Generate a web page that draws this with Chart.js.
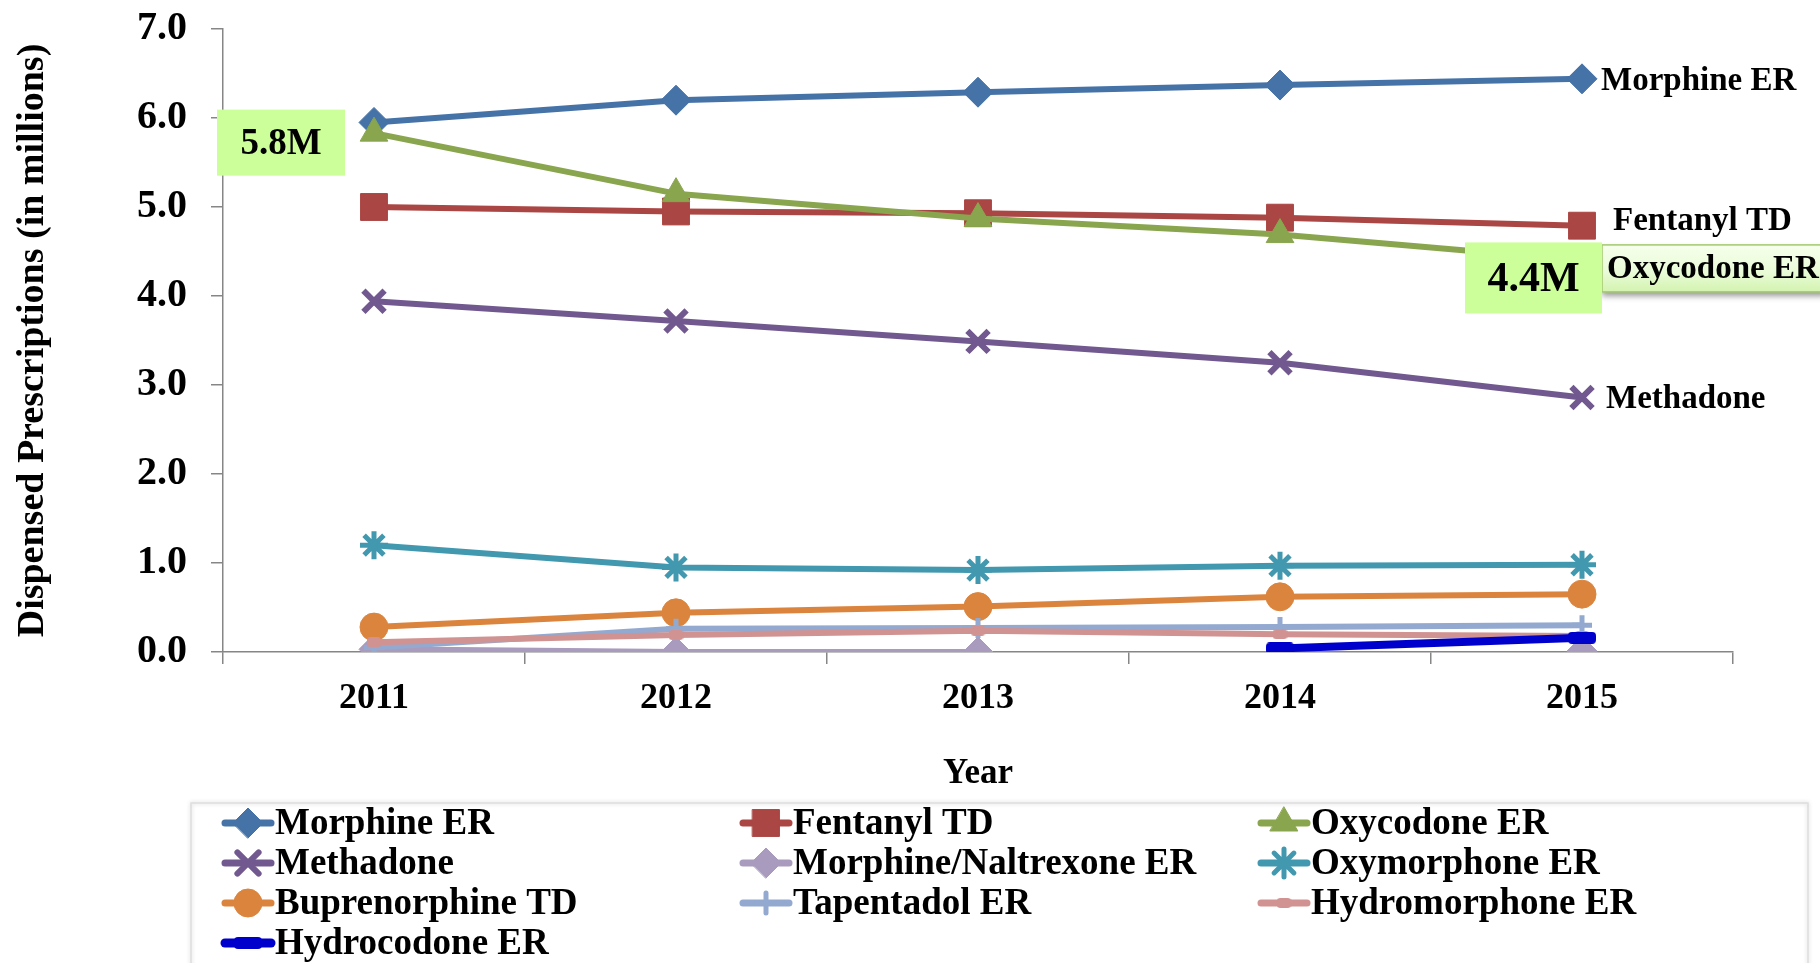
<!DOCTYPE html>
<html>
<head>
<meta charset="utf-8">
<script src="https://cdn.jsdelivr.net/npm/chart.js@4/dist/chart.umd.min.js"></script>
<style>
  html, body { margin: 0; padding: 0; background: #ffffff; }
  #wrap { width: 1820px; height: 963px; position: relative; }
  canvas { display: block; }
</style>
</head>
<body>
<div id="wrap"><canvas id="chart" width="1820" height="963"></canvas></div>
<script>
// Dispensed prescriptions of ER/LA opioids, millions, 2011-2015
const years = ['2011', '2012', '2013', '2014', '2015'];
const yTickLabels = ['0.0', '1.0', '2.0', '3.0', '4.0', '5.0', '6.0', '7.0'];

const morphineER        = [5.95, 6.20, 6.29, 6.37, 6.44];
const fentanylTD        = [5.00, 4.95, 4.93, 4.88, 4.79];
const oxycodoneER       = [5.83, 5.15, 4.87, 4.69, 4.40];
const methadone         = [3.94, 3.72, 3.49, 3.25, 2.86];
const morphNaltrexoneER = [0.03, 0.00, 0.00, null, 0.01];
const oxymorphoneER     = [1.20, 0.95, 0.92, 0.97, 0.98];
const buprenorphineTD   = [0.28, 0.44, 0.51, 0.62, 0.65];
const tapentadolER      = [0.05, 0.26, 0.27, 0.28, 0.30];
const hydromorphoneER   = [0.11, 0.19, 0.24, 0.20, 0.18];
const hydrocodoneER     = [null, null, null, 0.04, 0.16];

const seriesNames = ['Morphine ER', 'Fentanyl TD', 'Oxycodone ER', 'Methadone',
  'Morphine/Naltrexone ER', 'Oxymorphone ER', 'Buprenorphine TD', 'Tapentadol ER',
  'Hydromorphone ER', 'Hydrocodone ER'];
const seriesValues = [morphineER, fentanylTD, oxycodoneER, methadone, morphNaltrexoneER,
  oxymorphoneER, buprenorphineTD, tapentadolER, hydromorphoneER, hydrocodoneER];

const SERIF = '"Liberation Serif", "Times New Roman", serif';
Chart.defaults.font.family = SERIF;
Chart.defaults.font.weight = 'bold';
Chart.defaults.color = '#000000';

// rounded-bar marker used by the dash-style series
function pillMarker(w, h, color) {
  const c = document.createElement('canvas');
  c.width = w; c.height = h;
  const g = c.getContext('2d');
  g.fillStyle = color;
  g.beginPath();
  if (g.roundRect) g.roundRect(0, 0, w, h, Math.min(4, h / 2)); else g.rect(0, 0, w, h);
  g.fill();
  return c;
}

const styles = [
  { color: '#4572A7', pointStyle: 'rectRot',     radius: 15, pbw: 1 },
  { color: '#AA4643', pointStyle: 'rect',        radius: 19, pbw: 1 },
  { color: '#89A54E', pointStyle: 'triangle',    radius: 16, pbw: 1 },
  { color: '#71588F', pointStyle: 'crossRot',    radius: 15, pbw: 6 },
  { color: '#A99BBD', pointStyle: 'rectRot',     radius: 15, pbw: 1 },
  { color: '#4198AF', pointStyle: 'star',        radius: 14, pbw: 5 },
  { color: '#DB843D', pointStyle: 'circle',      radius: 14, pbw: 1 },
  { color: '#93A9CF', pointStyle: 'cross',       radius: 10, pbw: 5 },
  { color: '#D09392', pointStyle: pillMarker(15, 10, '#D09392'), radius: 8,  pbw: 0 },
  { color: '#0000CC', pointStyle: pillMarker(28, 12, '#0000CC'), radius: 14, pbw: 0, lw: 8 }
];

const datasets = seriesNames.map((name, i) => {
  const s = styles[i];
  return {
    label: name,
    data: seriesValues[i],
    borderColor: s.color,
    backgroundColor: s.color,
    pointBackgroundColor: s.color,
    pointBorderColor: s.color,
    pointStyle: s.pointStyle,
    pointRadius: s.radius,
    pointHoverRadius: s.radius,
    pointBorderWidth: s.pbw,
    borderWidth: s.lw || 6,
    borderJoinStyle: 'round',
    borderCapStyle: 'round',
    tension: 0,
    spanGaps: false,
    order: -i   // later series are painted over earlier ones
  };
});

// Series names written at the right end of the main lines
const endLabelNames = ['Morphine ER', 'Fentanyl TD', 'Methadone'];
const endLabelOffsets = { 'Morphine ER': [19, 3], 'Fentanyl TD': [31, -4], 'Methadone': [24, 2] };
// Value callouts on the Oxycodone ER line
const calloutSeries = 'Oxycodone ER';
const calloutIndices = [0, 4];

const annotationPlugin = {
  id: 'lineAnnotations',
  afterDatasetsDraw(chart) {
    const { ctx, scales: { x, y } } = chart;
    const last = years.length - 1;
    ctx.save();
    ctx.textBaseline = 'middle';
    ctx.fillStyle = '#000';
    ctx.font = 'bold 33px ' + SERIF;
    endLabelNames.forEach(name => {
      const i = seriesNames.indexOf(name);
      const px = x.getPixelForValue(last);
      const py = y.getPixelForValue(seriesValues[i][last]);
      const [dx, dy] = endLabelOffsets[name];
      ctx.textAlign = 'left';
      ctx.fillText(name, px + dx, py + dy);
    });

    // boxed end label for Oxycodone ER
    const oi = seriesNames.indexOf(calloutSeries);
    const ox = x.getPixelForValue(last);
    const oy = y.getPixelForValue(seriesValues[oi][last]);
    const bl = ox + 20, bt = oy - 15.5, bw = chart.width - bl + 6, bh = 47;
    const grad = ctx.createLinearGradient(0, bt, 0, bt + bh);
    grad.addColorStop(0, '#F6FFEC');
    grad.addColorStop(0.6, '#E8FBD6');
    grad.addColorStop(1, '#D3F3AE');
    ctx.save();
    ctx.shadowColor = 'rgba(0,0,0,0.4)';
    ctx.shadowBlur = 6;
    ctx.shadowOffsetY = 4;
    ctx.fillStyle = grad;
    ctx.fillRect(bl, bt, bw, bh);
    ctx.restore();
    ctx.strokeStyle = '#A3C96E';
    ctx.lineWidth = 1.5;
    ctx.strokeRect(bl, bt, bw, bh);
    ctx.fillStyle = '#000';
    ctx.textAlign = 'left';
    ctx.fillText(calloutSeries, bl + 5, bt + bh / 2 + 1);

    // value callouts
    calloutIndices.forEach(idx => {
      const v = seriesValues[oi][idx];
      const px = x.getPixelForValue(idx);
      const py = y.getPixelForValue(v);
      const text = v.toFixed(1) + 'M';
      let box, size;
      if (idx === 0) { box = [px - 157, py - 23.5, 128, 66]; size = 37; }
      else { box = [px - 117, py - 18, 137, 71]; size = 42; }
      ctx.fillStyle = '#CCFF99';
      ctx.fillRect(box[0], box[1], box[2], box[3]);
      ctx.fillStyle = '#000';
      ctx.textAlign = 'center';
      ctx.font = 'bold ' + size + 'px ' + SERIF;
      ctx.fillText(text, box[0] + box[2] / 2, box[1] + box[3] / 2 + 2);
    });
    ctx.restore();
  }
};

// Three-column legend beneath the plot
const gridLegendPlugin = {
  id: 'gridLegend',
  afterDraw(chart) {
    const { ctx } = chart;
    const colX = [222, 740, 1258];
    const rowY = [823, 863, 903, 943];
    ctx.save();
    // legend frame
    ctx.save();
    ctx.shadowColor = 'rgba(0,0,0,0.18)';
    ctx.shadowBlur = 4;
    ctx.strokeStyle = '#DDDDDD';
    ctx.lineWidth = 1.5;
    ctx.strokeRect(191, 803, 1617, 200);
    ctx.restore();

    chart.data.datasets.forEach((ds, i) => {
      const cx = colX[i % 3];
      const cy = rowY[Math.floor(i / 3)];
      // line sample
      ctx.strokeStyle = ds.borderColor;
      ctx.lineWidth = ds.borderWidth + 1;
      ctx.lineCap = 'round';
      ctx.beginPath();
      ctx.moveTo(cx + 3, cy);
      ctx.lineTo(cx + 49, cy);
      ctx.stroke();
      // marker
      ctx.fillStyle = ds.pointBackgroundColor;
      ctx.strokeStyle = ds.pointBorderColor;
      ctx.lineWidth = ds.pointBorderWidth;
      if (Chart.helpers && Chart.helpers.drawPoint) {
        Chart.helpers.drawPoint(ctx, {
          pointStyle: ds.pointStyle,
          radius: ds.pointRadius,
          borderWidth: ds.pointBorderWidth,
          rotation: 0
        }, cx + 26, cy);
      }
      // label
      ctx.fillStyle = '#000';
      ctx.font = 'bold 37px ' + SERIF;
      ctx.textAlign = 'left';
      ctx.textBaseline = 'middle';
      ctx.fillText(ds.label, cx + 53, cy + 1);
    });
    ctx.restore();
  }
};

new Chart(document.getElementById('chart'), {
  type: 'line',
  data: { labels: years, datasets },
  options: {
    responsive: false,
    animation: false,
    events: [],
    layout: { padding: { top: 29, right: 87, bottom: 161, left: 0 } },
    plugins: {
      legend: { display: false },
      tooltip: { enabled: false },
      title: { display: false }
    },
    scales: {
      x: {
        type: 'category',
        offset: true,
        grid: { drawOnChartArea: false, drawTicks: true, tickLength: 12, color: '#868686', lineWidth: 1.5, offset: true },
        border: { color: '#868686', width: 1.5 },
        ticks: { font: { family: SERIF, size: 36, weight: 'bold' }, padding: 13, color: '#000' },
        title: { display: true, text: 'Year', font: { family: SERIF, size: 35, weight: 'bold' }, color: '#000', padding: { top: 0, bottom: 7 } },
        afterFit(scale) {
          scale.height = 150;
          scale.paddingLeft = 0; scale.paddingRight = 0;
        }
      },
      y: {
        type: 'linear',
        min: 0,
        max: 7,
        grid: { drawOnChartArea: false, drawTicks: true, tickLength: 12, color: '#868686', lineWidth: 1.5 },
        border: { color: '#868686', width: 1.5 },
        ticks: {
          stepSize: 1,
          font: { family: SERIF, size: 40, weight: 'bold' },
          padding: 24,
          color: '#000',
          callback: (v) => yTickLabels[Math.round(v)]
        },
        title: { display: true, text: 'Dispensed Prescriptions (in millions)', font: { family: SERIF, size: 38, weight: 'bold' }, color: '#000', padding: { top: 10, bottom: 0 } },
        afterFit(scale) {
          scale.width = 223;
          scale.paddingTop = 0; scale.paddingBottom = 0;
        }
      }
    }
  },
  plugins: [annotationPlugin, gridLegendPlugin]
});
</script>
</body>
</html>
